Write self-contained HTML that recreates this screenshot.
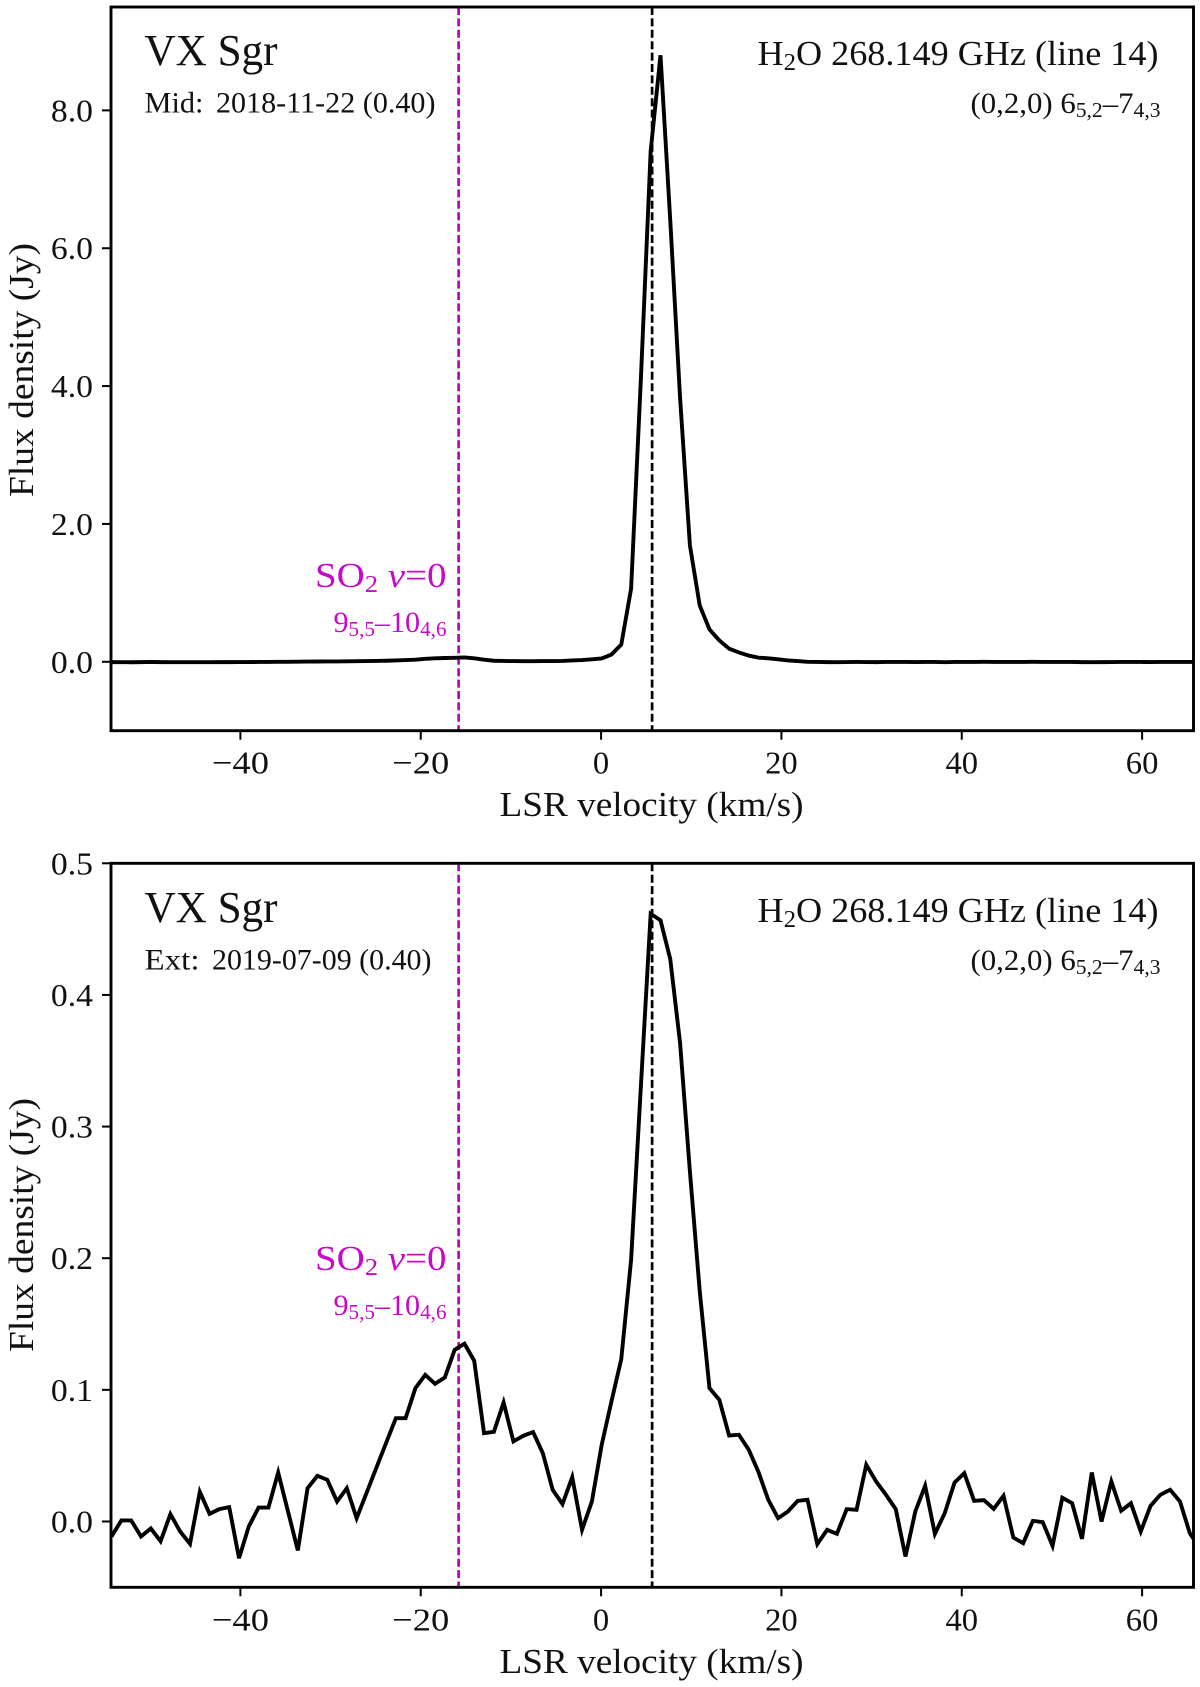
<!DOCTYPE html>
<html lang="en">
<head>
<meta charset="utf-8">
<title>VX Sgr H2O 268.149 GHz spectra</title>
<style>
html,body{margin:0;padding:0;background:#fff;}
svg{display:block;}
text{font-family:"Liberation Serif",serif;fill:#111;}
.mag{fill:#c60ac6;}
</style>
</head>
<body>
<svg id="fig" xmlns="http://www.w3.org/2000/svg" width="1200" height="1687" viewBox="0 0 1200 1687">
  <rect x="0" y="0" width="1200" height="1687" fill="#fff"/>
  <g id="panelTop"></g>
  <g id="panelBottom"></g>

  <text x="144.5" y="65" font-size="44" textLength="133" lengthAdjust="spacingAndGlyphs">VX Sgr</text>
  <text x="144.5" y="112.5" font-size="30" textLength="59" lengthAdjust="spacingAndGlyphs">Mid:</text>
  <text x="216" y="112.5" font-size="30" textLength="219.5" lengthAdjust="spacingAndGlyphs">2018-11-22 (0.40)</text>
  <text x="757.5" y="65" font-size="35" textLength="401" lengthAdjust="spacingAndGlyphs">H<tspan font-size="24" dy="5">2</tspan><tspan dy="-5">O 268.149 GHz (line 14)</tspan></text>
  <text x="970.5" y="113" font-size="30" textLength="190" lengthAdjust="spacingAndGlyphs">(0,2,0) 6<tspan font-size="21" dy="4">5,2</tspan><tspan dy="-4">–7</tspan><tspan font-size="21" dy="4">4,3</tspan></text>
  <text class="mag" x="315" y="587" font-size="35" textLength="131.5" lengthAdjust="spacingAndGlyphs">SO<tspan font-size="24" dy="5">2</tspan><tspan dy="-5"> </tspan><tspan dy="0" font-style="italic">v</tspan><tspan>=0</tspan></text>
  <text class="mag" x="333.5" y="632" font-size="30" textLength="113" lengthAdjust="spacingAndGlyphs">9<tspan font-size="21" dy="4">5,5</tspan><tspan dy="-4">–10</tspan><tspan font-size="21" dy="4">4,6</tspan></text>
  <text x="499.5" y="816" font-size="35" textLength="304" lengthAdjust="spacingAndGlyphs">LSR velocity (km/s)</text>
  <text transform="translate(33,497) rotate(-90)" font-size="35" textLength="254" lengthAdjust="spacingAndGlyphs">Flux density (Jy)</text>

  <text x="144.5" y="922" font-size="44" textLength="133" lengthAdjust="spacingAndGlyphs">VX Sgr</text>
  <text x="144.5" y="969.5" font-size="30" textLength="55" lengthAdjust="spacingAndGlyphs">Ext:</text>
  <text x="212" y="969.5" font-size="30" textLength="219.5" lengthAdjust="spacingAndGlyphs">2019-07-09 (0.40)</text>
  <text x="757.5" y="922" font-size="35" textLength="401" lengthAdjust="spacingAndGlyphs">H<tspan font-size="24" dy="5">2</tspan><tspan dy="-5">O 268.149 GHz (line 14)</tspan></text>
  <text x="970.5" y="970" font-size="30" textLength="190" lengthAdjust="spacingAndGlyphs">(0,2,0) 6<tspan font-size="21" dy="4">5,2</tspan><tspan dy="-4">–7</tspan><tspan font-size="21" dy="4">4,3</tspan></text>
  <text class="mag" x="315" y="1270" font-size="35" textLength="131.5" lengthAdjust="spacingAndGlyphs">SO<tspan font-size="24" dy="5">2</tspan><tspan dy="-5"> </tspan><tspan dy="0" font-style="italic">v</tspan><tspan>=0</tspan></text>
  <text class="mag" x="333.5" y="1315" font-size="30" textLength="113" lengthAdjust="spacingAndGlyphs">9<tspan font-size="21" dy="4">5,5</tspan><tspan dy="-4">–10</tspan><tspan font-size="21" dy="4">4,6</tspan></text>
  <text x="499.5" y="1673" font-size="35" textLength="304" lengthAdjust="spacingAndGlyphs">LSR velocity (km/s)</text>
  <text transform="translate(33,1352) rotate(-90)" font-size="35" textLength="254" lengthAdjust="spacingAndGlyphs">Flux density (Jy)</text>
</svg>
<script>
const velocity = [-54.29,-53.20,-52.11,-51.02,-49.94,-48.85,-47.76,-46.68,-45.59,-44.50,-43.42,-42.33,-41.24,-40.15,-39.07,-37.98,-36.89,-35.81,-34.72,-33.63,-32.55,-31.46,-30.37,-29.28,-28.20,-27.11,-26.02,-24.94,-23.85,-22.76,-21.68,-20.59,-19.50,-18.41,-17.33,-16.24,-15.15,-14.07,-12.98,-11.89,-10.81,-9.72,-8.63,-7.54,-6.46,-5.37,-4.28,-3.20,-2.11,-1.02,0.07,1.15,2.24,3.33,4.41,5.50,6.59,7.67,8.76,9.85,10.94,12.02,13.11,14.20,15.28,16.37,17.46,18.54,19.63,20.72,21.81,22.89,23.98,25.07,26.15,27.24,28.33,29.41,30.50,31.59,32.68,33.76,34.85,35.94,37.02,38.11,39.20,40.28,41.37,42.46,43.55,44.63,45.72,46.81,47.89,48.98,50.07,51.15,52.24,53.33,54.42,55.50,56.59,57.68,58.76,59.85,60.94,62.02,63.11,64.20,65.29,66.37];
const fluxMid = [-0.005,-0.006,-0.007,-0.005,-0.003,-0.005,-0.006,-0.006,-0.006,-0.006,-0.006,-0.005,-0.005,-0.004,-0.004,-0.003,-0.002,-0.001,0,0.002,0.003,0.004,0.005,0.005,0.006,0.008,0.01,0.012,0.015,0.02,0.025,0.03,0.043,0.05,0.055,0.058,0.063,0.05,0.03,0.015,0.012,0.01,0.008,0.008,0.01,0.01,0.012,0.02,0.025,0.035,0.048,0.105,0.25,1.06,4.09,7.41,8.8,6.41,3.83,1.69,0.816,0.47,0.31,0.19,0.135,0.09,0.06,0.05,0.035,0.02,0.01,0,-0.003,-0.005,-0.006,-0.004,-0.003,-0.004,-0.005,-0.003,-0.002,-0.003,-0.004,-0.003,-0.003,-0.006,-0.003,-0.002,-0.002,-0.001,-0.002,-0.002,-0.003,-0.002,-0.001,-0.002,-0.003,-0.002,-0.003,-0.005,-0.006,-0.005,-0.004,-0.003,-0.003,-0.003,-0.004,-0.003,-0.002,-0.002,-0.002,-0.002];
const fluxExt = [-0.0114,0.0008,0.0008,-0.0114,-0.0053,-0.015,0.0056,-0.0076,-0.017,0.0225,0.0058,0.0094,0.0109,-0.0279,-0.0038,0.0106,0.0106,0.0372,0.0076,-0.022,0.0253,0.0347,0.0317,0.0152,0.0253,0.0025,0.0215,0.0405,0.0595,0.0785,0.0785,0.1013,0.1114,0.1046,0.1094,0.1304,0.135,0.1221,0.0671,0.0681,0.0904,0.0608,0.0651,0.0679,0.0519,0.0241,0.0132,0.0337,-0.0063,0.0152,0.0583,0.0912,0.1234,0.1988,0.33,0.4617,0.4567,0.4273,0.3635,0.266,0.175,0.1013,0.0925,0.0653,0.0659,0.0545,0.0375,0.0165,0.0025,0.0076,0.0157,0.0165,-0.0172,-0.0063,-0.0094,0.0094,0.0089,0.0431,0.0304,0.0203,0.0094,-0.0266,0.0076,0.0271,-0.0094,0.0063,0.0296,0.0367,0.0157,0.0162,0.0096,0.0195,-0.0122,-0.0165,0.0005,-0.0005,-0.0185,0.018,0.0139,-0.0132,0.0372,0,0.0304,0.0081,0.0139,-0.0076,0.0119,0.0203,0.0241,0.0152,-0.0089,-0.02];
const xTickValues = [-40,-20,0,20,40,60];
const xTickLabels = ['−40','−20','0','20','40','60'];
const yTickValuesMid = [0,2,4,6,8];
const yTickLabelsMid = ['0.0','2.0','4.0','6.0','8.0'];
const yTickValuesExt = [0,0.1,0.2,0.3,0.4,0.5];
const yTickLabelsExt = ['0.0','0.1','0.2','0.3','0.4','0.5'];
const systemicVelocity = [5.66];
const so2Velocity = [-15.8];

const SVGNS = 'http://www.w3.org/2000/svg';
const X_MIN = -54.35, X_MAX = 65.7, PX_LEFT = 111, PX_RIGHT = 1193.5;
function xScale(v){ return PX_LEFT + (v - X_MIN) / (X_MAX - X_MIN) * (PX_RIGHT - PX_LEFT); }
function make(tag, attrs, parent){
  const el = document.createElementNS(SVGNS, tag);
  for (const k in attrs) el.setAttribute(k, attrs[k]);
  parent.appendChild(el);
  return el;
}
function labelWidth(s){
  let w = 0;
  for (const c of s) w += c === '−' ? 24.5 : c === '.' ? 9.5 : 16.3;
  return w;
}
function drawPanel(root, id, top, bottom, yMin, yMax, flux, yVals, yLabs, xBase){
  const yScale = function(f){ return bottom - (f - yMin) / (yMax - yMin) * (bottom - top); };
  const defs = make('defs', {}, root);
  const clip = make('clipPath', {id: 'clip-' + id}, defs);
  make('rect', {x: PX_LEFT, y: top, width: PX_RIGHT - PX_LEFT, height: bottom - top}, clip);

  const so2 = make('line', {x1: xScale(so2Velocity[0]), x2: xScale(so2Velocity[0]), y1: top, y2: bottom, stroke: '#c000c0', 'stroke-width': 2.7, 'stroke-dasharray': '8 3.4'}, root);
  
  
  const sys = make('line', {x1: xScale(systemicVelocity[0]), x2: xScale(systemicVelocity[0]), y1: top, y2: bottom, stroke: '#000', 'stroke-width': 2.7, 'stroke-dasharray': '8 3.4'}, root);
  
  

  const pts = velocity.map(function(v, i){ return xScale(v).toFixed(2) + ',' + yScale(flux[i]).toFixed(2); }).join(' ');
  const spec = make('polyline', {points: pts, fill: 'none', stroke: '#000', 'stroke-width': 3.9, 'stroke-linejoin': 'miter', 'clip-path': 'url(#clip-' + id + ')'}, root);
  
  

  const frame = make('rect', {x: PX_LEFT, y: top, width: PX_RIGHT - PX_LEFT, height: bottom - top, fill: 'none', stroke: '#000', 'stroke-width': 2.9}, root);
  
  

  xTickValues.forEach(function(v, i){
    const px = xScale(v);
    const t = make('line', {x1: px, x2: px, y1: bottom, y2: bottom + 9, stroke: '#000', 'stroke-width': 2}, root);
    
    
    const s = xTickLabels[i];
    const w = labelWidth(s);
    const l = make('text', {x: px - w / 2, y: xBase, 'font-size': 32, textLength: w, lengthAdjust: 'spacingAndGlyphs'}, root);
    
    
    l.textContent = s;
  });
  yVals.forEach(function(v, i){
    const py = yScale(v);
    const t = make('line', {x1: PX_LEFT - 9, x2: PX_LEFT, y1: py, y2: py, stroke: '#000', 'stroke-width': 2}, root);
    
    
    const s = yLabs[i];
    const w = labelWidth(s);
    const l = make('text', {x: 93 - w, y: py + 11, 'font-size': 32, textLength: w, lengthAdjust: 'spacingAndGlyphs'}, root);
    
    
    l.textContent = s;
  });
}
drawPanel(document.getElementById('panelTop'), 'top', 7, 730.7, -1, 9.5, fluxMid, yTickValuesMid, yTickLabelsMid, 773.5);
drawPanel(document.getElementById('panelBottom'), 'bot', 863.3, 1587.3, -0.05, 0.5, fluxExt, yTickValuesExt, yTickLabelsExt, 1630.5);
</script>
</body>
</html>
